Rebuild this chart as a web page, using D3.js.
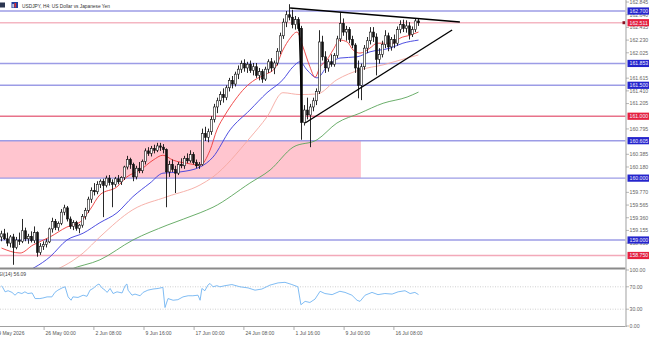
<!DOCTYPE html>
<html><head><meta charset="utf-8">
<script src="https://cdn.jsdelivr.net/npm/d3@7"></script>
<style>body{margin:0;background:#fff}svg{display:block;font-family:"Liberation Sans",Arial,sans-serif}</style>
</head><body><svg id="c" width="650" height="337"></svg>
<script>
// ---------- DATA ----------
const title = "USDJPY, H4:  US Dollar vs Japanese Yen";
const candleOpen = [159.05,159.10,159.02,158.95,159.05,158.88,159.00,158.98,159.15,159.02,
159.06,158.99,159.12,158.80,158.90,158.93,158.97,159.18,159.30,159.20,
159.27,159.45,159.52,159.34,159.22,159.28,159.19,159.24,159.38,159.48,
159.66,159.80,159.78,159.90,159.95,159.88,160.00,159.93,159.90,159.99,
159.94,160.01,160.18,160.30,160.22,160.02,160.16,160.12,160.27,160.44,
160.40,160.48,160.45,160.52,160.50,160.46,160.10,160.22,160.14,160.08,
160.22,160.20,160.32,160.28,160.38,160.25,160.20,160.22,160.72,160.66,
160.75,160.95,161.15,161.25,161.35,161.30,161.46,161.58,161.52,161.68,
161.76,161.85,161.78,161.84,161.74,161.80,161.66,161.72,161.60,161.76,
161.88,161.78,161.86,162.05,162.30,162.52,162.64,162.60,162.48,162.56,
162.42,160.90,161.10,161.02,161.15,161.25,161.40,162.20,161.96,161.78,
161.88,161.84,161.98,162.25,162.50,162.36,162.40,162.24,162.15,161.78,
161.50,161.80,162.10,162.22,162.36,162.28,161.92,162.00,162.16,162.30,
162.12,162.24,162.18,162.40,162.48,162.42,162.46,162.32,162.40,162.54];
const candleHigh = [159.15,159.18,159.12,159.08,159.10,159.05,159.12,159.34,159.20,159.10,
159.14,159.22,159.14,158.95,158.98,159.02,159.20,159.36,159.34,159.30,
159.50,159.57,159.55,159.38,159.32,159.31,159.26,159.42,159.52,159.70,
159.85,159.92,159.95,159.98,159.99,160.04,160.05,159.98,160.02,160.05,
160.03,160.20,160.36,160.33,160.25,160.20,160.26,160.30,160.48,160.50,
160.52,160.54,160.57,160.57,160.55,160.48,160.28,160.30,160.20,160.26,
160.32,160.36,160.40,160.45,160.42,160.30,160.26,160.80,160.83,160.80,
161.00,161.20,161.30,161.40,161.45,161.50,161.62,161.65,161.72,161.82,
161.90,161.92,161.88,161.90,161.86,161.86,161.78,161.76,161.80,161.92,
161.94,161.90,162.10,162.35,162.58,162.70,162.81,162.72,162.62,162.60,
162.46,161.18,161.30,161.20,161.30,161.45,162.39,162.30,162.05,161.92,
162.00,162.02,162.30,162.68,162.58,162.46,162.44,162.30,162.18,161.90,
161.85,162.15,162.28,162.44,162.44,162.34,162.10,162.22,162.39,162.35,
162.28,162.32,162.45,162.55,162.56,162.55,162.52,162.45,162.58,162.58];
const candleLow = [158.98,159.00,158.90,158.88,158.60,158.85,158.92,158.95,158.98,158.94,
158.96,158.95,158.73,158.76,158.84,158.88,158.95,159.12,159.16,159.15,
159.24,159.40,159.30,159.18,159.16,159.15,159.11,159.20,159.33,159.44,
159.60,159.72,159.74,159.84,159.37,159.85,159.88,159.53,159.86,159.90,
159.89,159.97,160.14,160.15,159.95,159.98,160.08,160.08,160.22,160.36,
160.35,160.40,160.42,160.44,160.40,159.53,160.02,160.10,159.76,160.05,
160.16,160.15,160.24,160.25,160.22,160.16,160.15,160.20,160.60,160.58,
160.70,160.90,161.05,161.18,161.22,161.26,161.40,161.45,161.48,161.60,
161.70,161.72,161.70,161.70,161.66,161.62,161.58,161.54,161.57,161.70,
161.72,161.68,161.82,162.00,162.25,162.44,162.55,162.42,162.40,162.38,
160.62,160.85,160.95,160.50,161.08,161.18,161.36,161.90,161.70,161.72,
161.80,161.80,161.94,162.20,162.30,162.22,162.18,162.10,161.70,161.29,
161.26,161.75,162.02,162.16,162.20,161.66,161.85,161.95,162.10,162.05,
162.06,162.10,162.14,162.34,162.36,162.35,162.24,162.28,162.36,162.46];
const candleClose = [159.10,159.02,158.95,159.05,158.88,159.00,158.98,159.15,159.02,159.06,
158.99,159.12,158.80,158.90,158.93,158.97,159.18,159.30,159.20,159.27,
159.45,159.52,159.34,159.22,159.28,159.19,159.24,159.38,159.48,159.66,
159.80,159.78,159.90,159.95,159.88,160.00,159.93,159.90,159.99,159.94,
160.01,160.18,160.30,160.22,160.02,160.16,160.12,160.27,160.44,160.40,
160.48,160.45,160.52,160.50,160.46,160.10,160.22,160.14,160.08,160.22,
160.20,160.32,160.28,160.38,160.25,160.20,160.22,160.72,160.66,160.75,
160.95,161.15,161.25,161.35,161.30,161.46,161.58,161.52,161.68,161.76,
161.85,161.78,161.84,161.74,161.80,161.66,161.72,161.60,161.76,161.88,
161.78,161.86,162.05,162.30,162.52,162.64,162.60,162.48,162.56,162.42,
160.90,161.10,161.02,161.15,161.25,161.40,162.20,161.96,161.78,161.88,
161.84,161.98,162.25,162.50,162.36,162.40,162.24,162.15,161.78,161.50,
161.80,162.10,162.22,162.36,162.28,161.92,162.00,162.16,162.30,162.12,
162.24,162.18,162.40,162.48,162.42,162.46,162.32,162.40,162.54,162.51];

// moving averages as [candle index, price]
const maFast = [[0,158.87],[6.2,158.79],[10.5,158.92],[16.2,159.05],[21.8,159.21],[26.2,159.29],[29.5,159.49],[32.8,159.73],[38.5,159.86],[41.8,160.02],[46.2,160.13],[50.5,160.29],[53.8,160.37],[57.2,160.29],[61.8,160.24],[66.2,160.21],[69.5,160.45],[71.8,160.78],[74.5,161.02],[77.8,161.26],[81.2,161.46],[84.5,161.59],[87.8,161.67],[91.2,161.78],[93.8,162.07],[96.2,162.26],[98.5,162.36],[100.5,162.12],[102.8,161.80],[104.5,161.63],[106.2,161.80],[108.5,161.91],[110.5,162.07],[112.8,162.23],[115.2,162.20],[117.2,162.07],[119.5,162.02],[122.8,162.10],[125.2,162.18],[130.5,162.18],[132.8,162.26],[136.2,162.31],[139,162.36]];
const maMid = [[6.2,158.44],[16.2,158.73],[21.8,159.00],[27.2,159.11],[32.8,159.28],[38.5,159.44],[43.8,159.70],[49.5,159.92],[53.8,160.08],[59.5,160.10],[66.2,160.18],[70.5,160.34],[76.2,160.78],[82.8,161.10],[88.5,161.38],[93.8,161.59],[97.2,161.80],[99.5,161.88],[101.8,161.75],[105.2,161.62],[108.5,161.80],[112.8,161.94],[118.5,161.96],[122.8,162.04],[129.5,162.10],[133.8,162.18],[139,162.23]];
const maSlow = [[14.5,158.44],[27.2,158.79],[32.8,159.05],[43.8,159.49],[55.2,159.70],[66.2,159.89],[70.5,160.02],[82.8,160.65],[88.5,160.99],[93.8,161.38],[99.5,161.35],[105.2,161.36],[111.8,161.59],[119.5,161.75],[127.2,161.83],[135.2,161.94],[139,161.99]];
const maLong = [[19.5,158.44],[22.8,158.52],[32.8,158.68],[43.8,159.00],[55.2,159.24],[66.2,159.44],[70.5,159.53],[82.8,159.92],[89.5,160.13],[97.2,160.50],[105.2,160.62],[111.8,160.89],[119.5,161.05],[127.2,161.21],[135.2,161.31],[139,161.39]];

// RSI(14) as [candle index, value]
const rsi = [[0,72],[0.5,68],[1.2,61],[2.2,63],[3.5,60],[4.5,55],[5.5,60],[6.8,58],[7.8,61],[8.8,58],[10.2,59],[11.2,49],[12.8,49],[13.8,50],[15.2,52],[16.8,52],[17.8,60],[18.8,64],[20.2,68],[21.2,70],[22.2,52],[23.2,46],[23.8,52],[25.5,51],[27.2,55],[28.5,53],[29.5,64],[30.5,67],[31.8,73],[32.5,75],[33.5,68],[34.5,64],[35.2,60],[36.2,67],[37.2,58],[38.5,61],[40.2,59],[41.2,72],[41.8,75],[42.2,64],[43.5,55],[44.5,57],[46.2,54],[47.2,60],[48.8,64],[50.5,66],[52.2,67],[53.8,69],[54.5,33],[55.5,49],[57.2,46],[58.8,47],[60.5,52],[62.2,54],[63.8,54],[65.5,55],[66.2,46],[66.8,67],[67.8,63],[68.8,73],[69.5,76],[70.5,70],[71.8,72],[72.8,70],[74.5,72],[76.8,74],[79.5,70],[82.2,68],[84.5,64],[86.8,66],[89.5,73],[92.2,77],[94.5,78],[96.8,74],[98.8,70],[99.8,38],[101.2,44],[102.8,42],[104.5,48],[106.2,62],[107.8,58],[110.2,56],[112.8,62],[114.5,60],[116.8,55],[118.5,46],[119.5,44],[121.2,55],[123.5,60],[125.5,56],[127.8,58],[130.2,57],[132.2,61],[134.5,63],[136.2,58],[137.8,60],[139,56.09]];
const rsiLabel = "RSI(14) 56.09";
const rsiTicks = [100, 70, 30, 0];
const rsiLevels = [70, 30];

// trendlines as [[idx, price],[idx, price]]
const trendUpper = [[96.2,162.748],[152.8,162.522]];
const trendLower = [[101.2,160.891],[150.2,162.393]];
const flagPole = [[99.2,162.50],[100.2,160.90]];

// levels and zone
const levelsBlue = [162.700, 161.853, 161.500, 160.605, 160.000, 159.000];
const levelsRed = [161.000, 158.750];
const currentPrice = 162.511;
const zoneTop = 160.605, zoneBottom = 160.000, zoneStart = -5, zoneEnd = 119.8;

// axis ticks
const priceTicks = [162.845,162.640,162.435,162.230,162.025,161.615,161.410,161.205,160.795,160.385,160.180,159.770,159.565,159.360,159.155,158.950];
const timeTickIdx = [-2.5,14.2,30.8,47.5,64.2,80.8,97.5,114.2,130.8];
const timeTickLabels = ["19 May 2026","26 May 00:00","2 Jun 08:00","9 Jun 16:00","17 Jun 00:00","24 Jun 08:00","1 Jul 16:00","9 Jul 00:00","16 Jul 08:00"];

// ---------- DRAW ----------
const svg = d3.select("#c");
const plotR = 626, mainBot = 268;
const x = d3.scaleLinear().domain([0, 139]).range([1.5, 418.5]);
const y = d3.scaleLinear().domain([158.548, 162.878]).range([mainBot, 0]);
const yr = d3.scaleLinear().domain([0, 100]).range([326, 270]);

svg.append("rect").attr("width",650).attr("height",337).attr("fill","#fff");
const defs = svg.append("defs");
defs.append("clipPath").attr("id","cm").append("rect").attr("x",0).attr("y",0).attr("width",plotR).attr("height",mainBot);
defs.append("clipPath").attr("id","cr").append("rect").attr("x",0).attr("y",269).attr("width",plotR).attr("height",58);

const gm = svg.append("g").attr("clip-path","url(#cm)");

// zone
gm.append("rect").attr("x", x(zoneStart)).attr("y", y(zoneTop))
  .attr("width", x(zoneEnd)-x(zoneStart)).attr("height", y(zoneBottom)-y(zoneTop))
  .attr("fill","#ffc5cf");

// horizontal levels
gm.selectAll(".lb").data(levelsBlue).join("line")
  .attr("x1",0).attr("x2",plotR).attr("y1",d=>y(d)).attr("y2",d=>y(d))
  .attr("stroke","#9c9ce6").attr("stroke-width",1.4);
gm.selectAll(".lr").data(levelsRed).join("line")
  .attr("x1",0).attr("x2",plotR).attr("y1",d=>y(d)).attr("y2",d=>y(d))
  .attr("stroke",(d,i)=> i===0 ? "#e8728a" : "#f3a9b9").attr("stroke-width",1.4);
gm.append("line").attr("x1",0).attr("x2",plotR).attr("y1",y(currentPrice)).attr("y2",y(currentPrice))
  .attr("stroke","#f4b6c2").attr("stroke-width",1.4);

// moving averages
const line = d3.line().x(d=>x(d[0])).y(d=>y(d[1])).curve(d3.curveMonotoneX);
[[maLong,"#5aa55a"],[maSlow,"#f5a8a0"],[maMid,"#3b3bdc"],[maFast,"#ee3a3a"]].forEach(([d,c])=>{
  gm.append("path").datum(d).attr("d",line).attr("fill","none").attr("stroke",c).attr("stroke-width",0.9);
});

// candles
const idx = d3.range(candleClose.length);
gm.selectAll(".wick").data(idx).join("line")
  .attr("x1",i=>x(i)).attr("x2",i=>x(i))
  .attr("y1",i=>y(candleHigh[i])).attr("y2",i=>y(candleLow[i]))
  .attr("stroke","#111").attr("stroke-width",0.9);
gm.selectAll(".body").data(idx).join("rect")
  .attr("x",i=>x(i)-1).attr("width",2)
  .attr("y",i=>y(Math.max(candleOpen[i],candleClose[i])))
  .attr("height",i=>Math.max(0.8, Math.abs(y(candleOpen[i])-y(candleClose[i]))))
  .attr("fill",i=>candleClose[i]>=candleOpen[i] ? "#fff" : "#111")
  .attr("stroke","#111").attr("stroke-width",0.6);

// trendlines
[trendUpper, trendLower, flagPole].forEach(t=>{
  gm.append("line").attr("x1",x(t[0][0])).attr("y1",y(t[0][1])).attr("x2",x(t[1][0])).attr("y2",y(t[1][1]))
    .attr("stroke","#000").attr("stroke-width",1.4);
});

// current price marker
svg.append("rect").attr("x",plotR-3.5).attr("y",y(currentPrice)-1.5).attr("width",3).attr("height",3).attr("fill","#8a1020");

// RSI panel
const gr = svg.append("g").attr("clip-path","url(#cr)");
gr.selectAll(".rl").data(rsiLevels).join("line")
  .attr("x1",0).attr("x2",plotR).attr("y1",d=>yr(d)).attr("y2",d=>yr(d))
  .attr("stroke","#c4c4c4").attr("stroke-width",0.8).attr("stroke-dasharray","1,1.5");
const rline = d3.line().x(d=>x(d[0])).y(d=>yr(d[1]));
gr.append("path").datum(rsi).attr("d",rline).attr("fill","none").attr("stroke","#72b4f2").attr("stroke-width",0.9);
svg.append("text").attr("x",-5).attr("y",275.5).attr("font-size",5).attr("fill","#444").text(rsiLabel);

// frame lines
svg.append("line").attr("x1",0).attr("x2",plotR).attr("y1",268.5).attr("y2",268.5).attr("stroke","#8a8a8a").attr("stroke-width",2);
svg.append("line").attr("x1",0).attr("x2",plotR+1).attr("y1",326.5).attr("y2",326.5).attr("stroke","#a0a0a0").attr("stroke-width",1);
svg.append("line").attr("x1",plotR).attr("x2",plotR).attr("y1",0).attr("y2",327).attr("stroke","#c4c4c4").attr("stroke-width",1.6);

// price axis ticks
const ga = svg.append("g").attr("font-size",5.2).attr("fill","#666");
priceTicks.forEach(p=>{
  ga.append("line").attr("x1",plotR).attr("x2",plotR+3).attr("y1",y(p)).attr("y2",y(p)).attr("stroke","#999").attr("stroke-width",0.7);
  ga.append("text").attr("x",plotR+3.5).attr("y",y(p)).attr("dy","0.35em").text(p.toFixed(3));
});
rsiTicks.forEach(v=>{
  ga.append("line").attr("x1",plotR).attr("x2",plotR+3).attr("y1",yr(v)).attr("y2",yr(v)).attr("stroke","#999").attr("stroke-width",0.7);
  ga.append("text").attr("x",plotR+3.5).attr("y",yr(v)).attr("dy","0.35em").text(v.toFixed(2));
});
function box(p, fill){
  svg.append("rect").attr("x",plotR+1.5).attr("y",y(p)-3.6).attr("width",21.5).attr("height",7.2).attr("fill",fill);
  svg.append("text").attr("x",plotR+3.5).attr("y",y(p)).attr("dy","0.35em").attr("font-size",5.2).attr("fill","#f0f0ff").text(p.toFixed(3));
}
levelsBlue.forEach(p=>box(p,"#2424cc"));
levelsRed.forEach(p=>box(p,"#e6203e"));
box(currentPrice,"#e6203e");

// time axis
timeTickIdx.forEach((t,i)=>{
  svg.append("line").attr("x1",x(t)).attr("x2",x(t)).attr("y1",327).attr("y2",330).attr("stroke","#888").attr("stroke-width",0.7);
  svg.append("text").attr("x",x(t)+1.5).attr("y",334.5).attr("font-size",5).attr("fill","#555").text(timeTickLabels[i]);
});

// title and icons
svg.append("rect").attr("x",0).attr("y",2.5).attr("width",5).attr("height",5).attr("fill","#2b3550");
svg.append("rect").attr("x",11.5).attr("y",2).attr("width",6.5).attr("height",6).attr("fill","#2040a0");
svg.append("rect").attr("x",14.5).attr("y",3).attr("width",1.6).attr("height",4.5).attr("fill","#e03030");
svg.append("rect").attr("x",12.5).attr("y",4).attr("width",1.2).attr("height",3.5).attr("fill","#fff");
svg.append("text").attr("x",22).attr("y",7.5).attr("font-size",4.8).attr("fill","#333").text(title);
</script></body></html>
